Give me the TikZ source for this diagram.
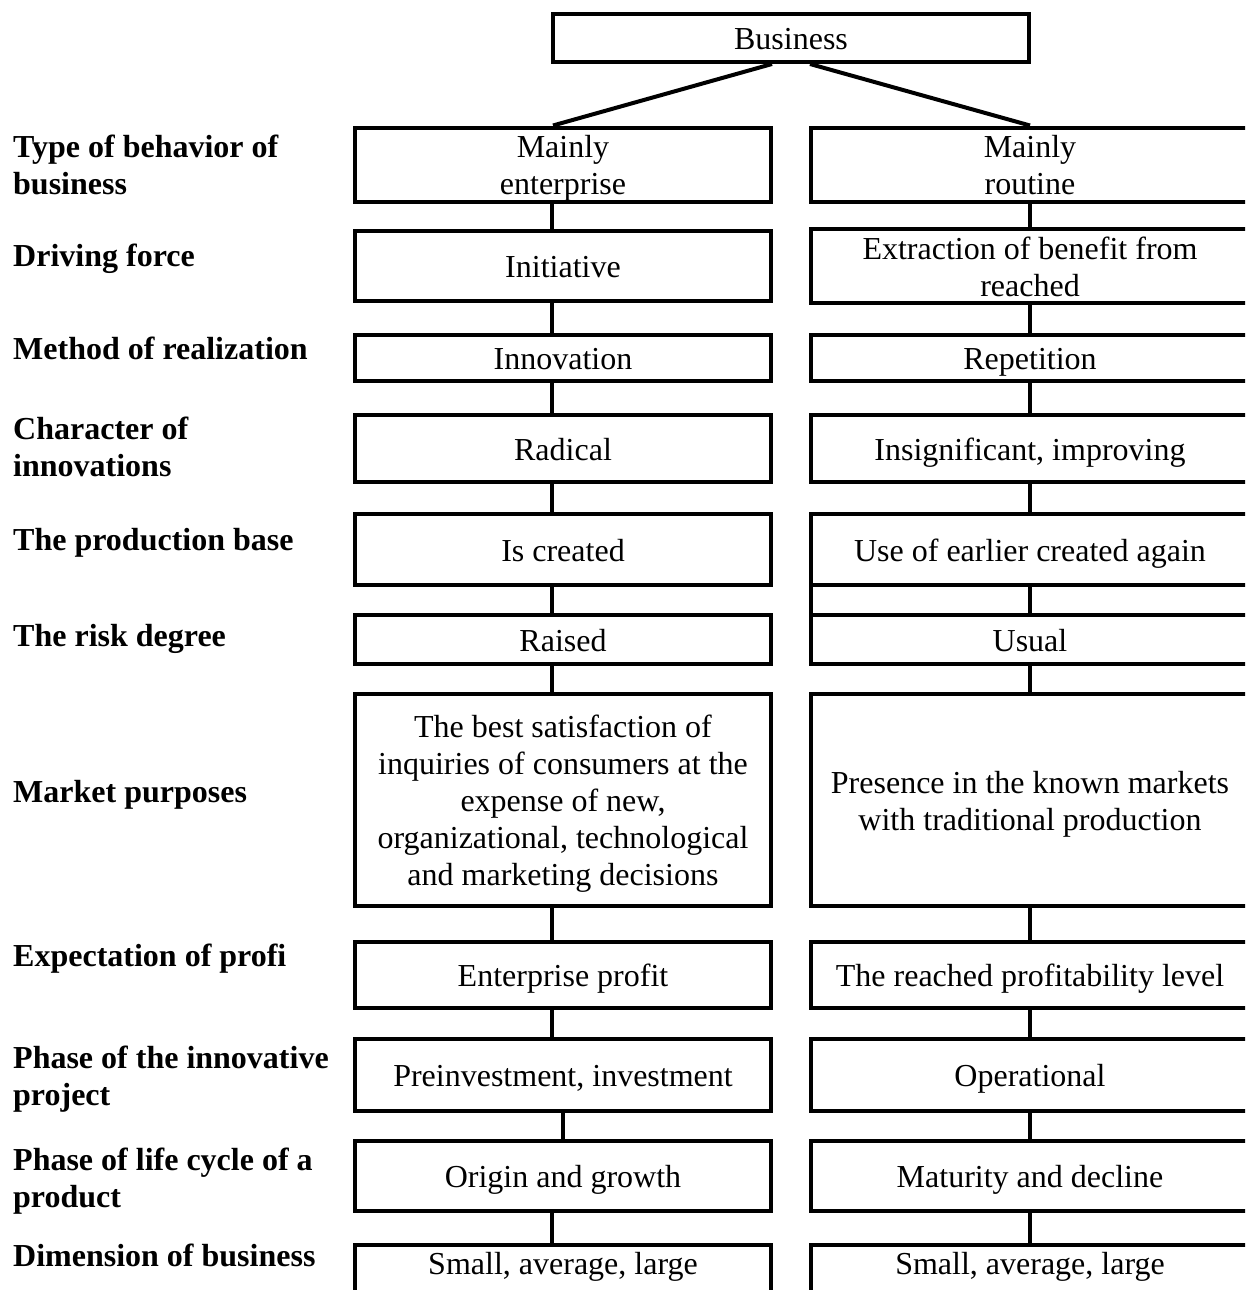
\documentclass[tikz,border=0pt]{standalone}
\usepackage{fontspec}
\setmainfont{Liberation Serif}
% line strut: 37pt line, baseline set low as in word-processor layout
\newcommand{\vstrut}{\rule[-7pt]{0pt}{37pt}}
\begin{document}
\begin{tikzpicture}[x=1pt,y=-1pt,
  cell/.style={draw, line width=4pt, rectangle, align=center, inner sep=0pt,
               font=\fontsize{32}{37}\selectfont},
  lcell/.style={cell, minimum width=416pt},
  rcell/.style={cell, minimum width=438pt},
  link/.style={line width=4pt},
  rowlabel/.style={anchor=base west, align=left, inner sep=0pt,
                   font=\fontsize{32}{37}\selectfont\bfseries}]
\useasboundingbox (0,0) rectangle (1245,1290);
\fill[white] (0,0) rectangle (1245,1290);
\clip (0,0) rectangle (1245,1290);

% root
\node[cell, minimum width=476pt, minimum height=48pt] (biz) at (791,38) {\vstrut Business};

% left column
\node[lcell, minimum height=71pt]  (l1)  at (563,164.5) {\vstrut Mainly\\\vstrut enterprise};
\node[lcell, minimum height=70pt]  (l2)  at (563,266)   {\vstrut Initiative};
\node[lcell, minimum height=46pt]  (l3)  at (563,358)   {\vstrut Innovation};
\node[lcell, minimum height=67pt]  (l4)  at (563,448.5) {\vstrut Radical};
\node[lcell, minimum height=71pt]  (l5)  at (563,549.5) {\vstrut Is created};
\node[lcell, minimum height=49pt]  (l6)  at (563,639.5) {\vstrut Raised};
\node[lcell, minimum height=212pt] (l7)  at (563,800)   {\vstrut The best satisfaction of\\\vstrut inquiries of consumers at the\\\vstrut expense of new,\\\vstrut organizational, technological\\\vstrut and marketing decisions};
\node[lcell, minimum height=66pt]  (l8)  at (563,975)   {\vstrut Enterprise profit};
\node[lcell, minimum height=72pt]  (l9)  at (563,1075)  {\vstrut Preinvestment, investment};
\node[lcell, minimum height=70pt]  (l10) at (563,1176)  {\vstrut Origin and growth};
\node[lcell, anchor=north, text height=22pt, text depth=60pt, inner ysep=7pt] (l11) at (563,1243) {Small, average, large};

% right column
\node[rcell, minimum height=71pt]  (r1)  at (1030,164.5) {\vstrut Mainly\\\vstrut routine};
\node[rcell, minimum height=70pt]  (r2)  at (1030,266)   {\vstrut Extraction of benefit from\\\vstrut reached};
\node[rcell, minimum height=46pt]  (r3)  at (1030,358)   {\vstrut Repetition};
\node[rcell, minimum height=67pt]  (r4)  at (1030,448.5) {\vstrut Insignificant, improving};
\node[rcell, minimum height=71pt]  (r5)  at (1030,549.5) {\vstrut Use of earlier created again};
\node[rcell, minimum height=49pt]  (r6)  at (1030,639.5) {\vstrut Usual};
\node[rcell, minimum height=212pt] (r7)  at (1030,800)   {\vstrut Presence in the known markets\\\vstrut with traditional production};
\node[rcell, minimum height=66pt]  (r8)  at (1030,975)   {\vstrut The reached profitability level};
\node[rcell, minimum height=72pt]  (r9)  at (1030,1075)  {\vstrut Operational};
\node[rcell, minimum height=70pt]  (r10) at (1030,1176)  {\vstrut Maturity and decline};
\node[rcell, anchor=north, text height=22pt, text depth=60pt, inner ysep=7pt] (r11) at (1030,1243) {Small, average, large};

% row captions (base anchor sits on the last line)
\node[rowlabel] (t1)  at (13,194)  {Type of behavior of\\business};
\node[rowlabel] (t2)  at (13,266)  {Driving force};
\node[rowlabel] (t3)  at (13,359)  {Method of realization};
\node[rowlabel] (t4)  at (13,476)  {Character of\\innovations};
\node[rowlabel] (t5)  at (13,550)  {The production base};
\node[rowlabel] (t6)  at (13,646)  {The risk degree};
\node[rowlabel] (t7)  at (13,802)  {Market purposes};
\node[rowlabel] (t8)  at (13,966)  {Expectation of profi};
\node[rowlabel] (t9)  at (13,1105) {Phase of the innovative\\project};
\node[rowlabel] (t10) at (13,1207) {Phase of life cycle of a\\product};
\node[rowlabel] (t11) at (13,1266) {Dimension of business};

% branches from the root
\draw[link] ([xshift=-19pt]biz.south) -- ([xshift=-10pt]l1.north);
\draw[link] ([xshift=19pt]biz.south) -- (r1.north);

% vertical links
\foreach \a/\b/\s in {1/2/-11,2/3/-11,3/4/-11,4/5/-11,5/6/-11,6/7/-11,7/8/-11,8/9/-11,9/10/0,10/11/-11}
  \draw[link] ([xshift=\s pt]l\a.south) -- ([xshift=\s pt]l\b.north);
\foreach \a/\b in {1/2,2/3,3/4,4/5,5/6,6/7,7/8,8/9,9/10,10/11}
  \draw[link] (r\a.south) -- (r\b.north);

% joined left edge between the two base boxes
\draw[link] ([xshift=2pt]r5.south west) -- ([xshift=2pt]r6.north west);
\end{tikzpicture}
\end{document}
